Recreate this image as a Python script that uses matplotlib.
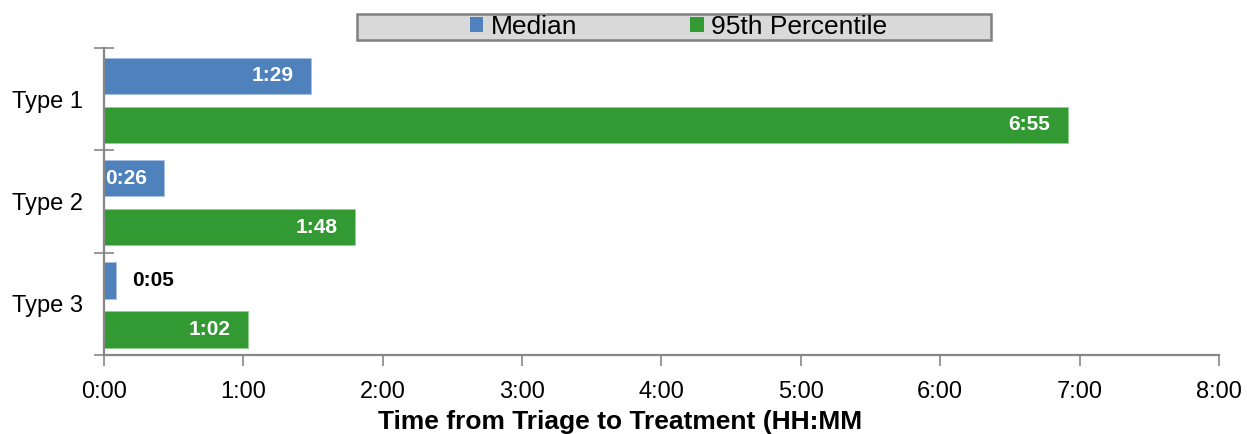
import matplotlib.pyplot as plt
import numpy as np
from matplotlib.ticker import FixedLocator, FuncFormatter
from matplotlib.patches import Patch, Rectangle

plt.rcParams['font.family'] = ['Liberation Sans', 'DejaVu Sans']

# data (minutes)
categories = ['Type 1', 'Type 2', 'Type 3']
median = [89, 26, 5]
pct95 = [415, 108, 62]
median_labels = ['1:29', '0:26', '0:05']
pct95_labels = ['6:55', '1:48', '1:02']

blue = '#4F81BD'
green = '#339933'
axis_grey = '#868686'

fig = plt.figure(figsize=(12.47, 4.34), dpi=100)
ax = fig.add_axes([0.0834, 0.182, 0.8941, 0.707])

y = np.arange(len(categories))
h = 0.355
ax.barh(y - 0.23, median, height=h, color=blue, edgecolor='#a9c1e0', linewidth=0.6)
ax.barh(y + 0.25, pct95, height=h, color=green, edgecolor='#8fd08f', linewidth=0.6)

# value labels
for i in range(len(categories)):
    if median[i] > 20:
        ax.text(median[i] - 7.5, y[i] - 0.23, median_labels[i], ha='right', va='center',
                color='white', fontsize=15, fontweight='bold')
    else:
        ax.text(median[i] + 7, y[i] - 0.23, median_labels[i], ha='left', va='center',
                color='black', fontsize=15, fontweight='bold')
    ax.text(pct95[i] - 7.5, y[i] + 0.25, pct95_labels[i], ha='right', va='center',
            color='white', fontsize=15, fontweight='bold')

ax.set_xlim(0, 480)
ax.set_ylim(2.5, -0.5)

ax.xaxis.set_major_locator(FixedLocator(np.arange(0, 481, 60)))
ax.xaxis.set_major_formatter(FuncFormatter(lambda v, p: '%d:%02d' % (v // 60, v % 60)))
ax.tick_params(axis='x', length=8, width=1.2, color=axis_grey, labelsize=17, pad=11)

ax.set_yticks(y)
ax.set_yticklabels(categories)
ax.yaxis.set_minor_locator(FixedLocator([-0.5, 0.5, 1.5, 2.5]))
ax.tick_params(axis='y', which='major', length=0, labelsize=17, pad=15)
ax.tick_params(axis='y', which='minor', length=15, width=1.2, color=axis_grey, direction='inout')

for s in ['top', 'right']:
    ax.spines[s].set_visible(False)
for s in ['left', 'bottom']:
    ax.spines[s].set_color(axis_grey)
    ax.spines[s].set_linewidth(1.6)

ax.set_xlabel('Time from Triage to Treatment (HH:MM', fontsize=19, fontweight='bold')
ax.xaxis.set_label_coords(0.463, -0.18)

# legend box (wider than its content, as in the source)
fig.patches.append(Rectangle((0.2863, 0.9078), 0.5084, 0.0599, transform=fig.transFigure,
                             facecolor='#d9d9d9', edgecolor='#808080', linewidth=1.8, zorder=0))
handles = [Patch(facecolor=blue, label='Median'), Patch(facecolor=green, label='95th Percentile')]
leg = fig.legend(handles=handles, loc='center', bbox_to_anchor=(0.5441, 0.938), ncol=2,
                 fontsize=19, frameon=False, handlelength=0.5, handleheight=0.5,
                 handletextpad=0.27, columnspacing=4.3, borderpad=0, borderaxespad=0)

fig.savefig('out.png', dpi=100)
